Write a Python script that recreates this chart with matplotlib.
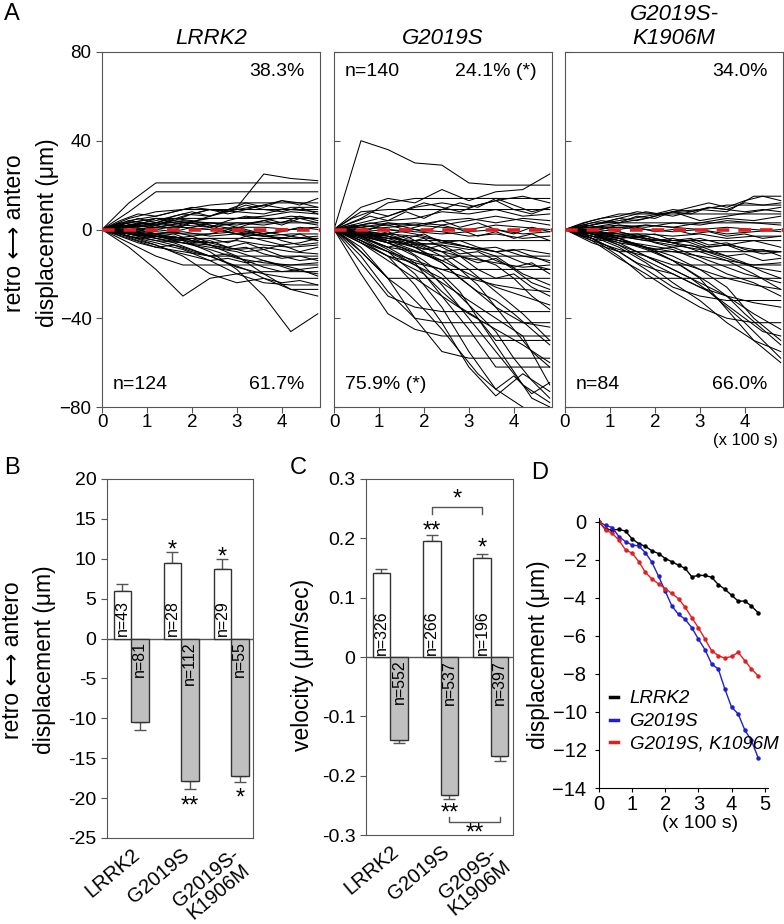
import matplotlib
matplotlib.use("Agg")
import matplotlib.pyplot as plt
from matplotlib.lines import Line2D

plt.rcParams["font.family"] = ["Liberation Sans", "DejaVu Sans"]
plt.rcParams["axes.edgecolor"] = "#555555"
plt.rcParams["xtick.color"] = "#555555"
plt.rcParams["ytick.color"] = "#555555"
plt.rcParams["xtick.labelcolor"] = "black"
plt.rcParams["ytick.labelcolor"] = "black"

# ---------------- panel A: individual tracks (um), time in 100 s
track_time = [0, 0.6, 1.2, 1.8, 2.4, 3.0, 3.6, 4.2, 4.8]
fine_time = [0, 0.4, 0.8, 1.2, 1.6, 2.0, 2.4, 2.8, 3.2, 3.6, 4.0, 4.4, 4.8]

tracks_lrrk2 = [
    [0, 12, 21, 21, 21, 21, 21, 21, 21],
    [0, 8, 17, 17, 17, 17, 17, 17, 17],
    [0, 3, 5, 2, 6, 10, 25, 23, 22],
    [0, 5, 8, 9, 11, 12, 12, 12, 12],
    [0, 4, 2, 6, 9, 8, 7, 10, 10],
    [0, 2, 4, 7, 6, 9, 11, 9, 8],
    [0, 1, 3, 3, 5, 5, 6, 8, 7],
    [0, 3, 5, 5, 5, 5, 5, 5, 5],
    [0, 1, 2, 4, 3, 2, 4, 6, 5],
    [0, 2, 1, 3, 3, 3, 3, 3, 3],
    [0, 1, 0, 2, 1, 3, 2, 4, 2],
    [0, 0, 1, 1, 0, 1, 1, 0, 1],
    [0, -1, -2, -1, -3, -2, -3, -4, -3],
    [0, -2, -3, -4, -4, -4, -4, -4, -4],
    [0, -1, -3, -5, -6, -5, -7, -8, -7],
    [0, -3, -5, -6, -7, -9, -8, -10, -11],
    [0, -4, -8, -10, -12, -12, -12, -12, -12],
    [0, -2, -4, -6, -9, -13, -15, -16, -15],
    [0, -6, -12, -16, -16, -16, -16, -16, -16],
    [0, -8, -18, -30, -22, -20, -19, -19, -19],
    [0, -3, -6, -9, -14, -20, -24, -25, -25],
    [0, -2, -5, -8, -12, -17, -20, -22, -22],
    [0, -1, -3, -6, -8, -10, -14, -18, -20],
    [0, -2, -3, -5, -10, -18, -30, -46, -38],
    [0, -1, -2, -4, -7, -12, -20, -27, -30],
    [0, -3, -7, -12, -20, -24, -22, -27, -27],
    [0, -1, -1, -2, -2, -1, -3, -2, -2],
    [0, 2, 3, 1, 0, -2, -1, -3, -5],
    [0, -1, 1, 3, 2, 0, -2, 0, 1],
    [0, 4, 6, 9, 9, 9, 9, 9, 9],
]
tracks_lrrk2_fine = [
    [0, 2, 5, 3, 6, 8, 6, 9, 12, 10, 13, 11, 14],
    [0, -2, -1, -4, -3, -6, -5, -8, -6, -9, -7, -10, -8],
    [0, 1, -1, 2, 0, 3, 1, -1, 2, 4, 2, 5, 3],
    [0, -1, -3, -2, -5, -4, -7, -9, -8, -11, -13, -12, -14],
    [0, 3, 2, 5, 4, 7, 9, 8, 11, 9, 8, 10, 7],
    [0, -3, -6, -8, -7, -10, -12, -11, -14, -17, -19, -18, -21],
    [0, 1, 3, 2, 4, 3, 1, 4, 6, 5, 3, 6, 4],
    [0, -1, 0, -2, -1, -3, -2, 0, -1, -3, -4, -2, -5],
    [0, 2, 0, -2, -4, -3, -6, -8, -10, -9, -12, -14, -13],
    [0, -2, -4, -3, -2, -5, -4, -6, -3, -5, -7, -6, -4],
    [0, 4, 7, 6, 8, 10, 9, 7, 9, 11, 13, 12, 10],
    [0, -1, -2, -4, -6, -9, -12, -15, -18, -22, -24, -23, -25],
    [0, 2, 1, 3, 5, 4, 2, -1, -3, -2, -5, -7, -6],
    [0, -2, -5, -7, -10, -12, -14, -13, -15, -14, -16, -18, -17],
    [0, 1, 2, 0, -1, 1, 3, 2, 0, -2, -1, 1, 0],
]

tracks_g2019s = [
    [0, 40, 36, 30, 29, 21, 20, 20, 20],
    [0, 10, 14, 12, 18, 13, 17, 18, 25],
    [0, 5, 12, 14, 14, 14, 14, 14, 14],
    [0, 8, 9, 9, 9, 9, 9, 9, 9],
    [0, 3, 6, 10, 12, 10, 13, 15, 12],
    [0, 2, 4, 5, 8, 7, 9, 6, 7],
    [0, 1, 3, 2, 4, 5, 3, 5, 4],
    [0, 0, 1, 2, 1, 0, 2, 1, 0],
    [0, -1, -2, 0, -1, -3, -2, -4, -3],
    [0, -2, -4, -5, -5, -5, -5, -5, -5],
    [0, -3, -5, -7, -6, -8, -10, -9, -11],
    [0, -4, -8, -10, -12, -12, -12, -12, -12],
    [0, -2, -5, -8, -10, -13, -15, -17, -16],
    [0, -6, -12, -15, -18, -18, -18, -18, -18],
    [0, -10, -22, -22, -22, -22, -22, -22, -22],
    [0, -5, -10, -14, -18, -22, -25, -27, -28],
    [0, -15, -30, -35, -37, -37, -37, -37, -37],
    [0, -20, -38, -45, -48, -48, -48, -48, -48],
    [0, -8, -22, -40, -55, -58, -58, -58, -58],
    [0, -3, -8, -15, -30, -45, -62, -62, -62],
    [0, -4, -10, -20, -35, -55, -72, -80, -85],
    [0, -2, -6, -12, -25, -40, -55, -70, -78],
    [0, -5, -12, -25, -42, -62, -75, -65, -73],
    [0, -2, -4, -8, -15, -25, -35, -42, -44],
    [0, -1, -3, -6, -10, -18, -28, -38, -50],
    [0, -3, -6, -10, -14, -20, -26, -30, -34],
    [0, -1, -2, -3, -5, -8, -12, -20, -25],
    [0, 2, 0, -2, -5, -8, -10, -15, -18],
    [0, -2, -3, -6, -7, -9, -8, -12, -14],
    [0, 1, 2, 3, 2, 4, 6, 4, 2],
    [0, -1, 0, -1, -2, -1, 0, -2, -1],
    [0, -6, -14, -22, -30, -38, -45, -52, -60],
    [0, -12, -28, -40, -42, -42, -42, -42, -42],
    [0, -3, -9, -16, -24, -32, -40, -48, -70],
]
tracks_g2019s_fine = [
    [0, -2, -5, -8, -6, -10, -14, -12, -18, -22, -20, -26, -30],
    [0, 3, 6, 4, 8, 5, 9, 12, 10, 14, 11, 8, 10],
    [0, -1, -3, -2, -5, -8, -12, -18, -25, -35, -45, -55, -62],
    [0, -3, -2, -6, -5, -9, -7, -11, -10, -14, -17, -15, -20],
    [0, 2, 0, 3, 1, -1, 2, 0, -3, -1, -4, -2, -5],
    [0, -4, -8, -12, -16, -20, -28, -35, -40, -52, -64, -76, -80],
    [0, 1, -2, -4, -3, -7, -10, -9, -13, -16, -22, -30, -36],
    [0, -2, -1, -3, -6, -4, -8, -12, -15, -13, -18, -24, -27],
    [0, 5, 8, 6, 9, 12, 10, 8, 11, 13, 9, 7, 10],
    [0, -1, -4, -6, -9, -14, -20, -28, -40, -50, -50, -50, -50],
    [0, -2, -3, -1, -4, -2, -6, -5, -8, -10, -9, -12, -15],
    [0, -6, -14, -22, -28, -36, -45, -55, -65, -72, -66, -74, -69],
    [0, 1, 3, 2, 0, 2, 4, 1, 3, 0, -2, 1, -1],
    [0, -3, -7, -10, -14, -18, -22, -30, -38, -46, -58, -68, -76],
    [0, -1, -2, -5, -8, -11, -15, -22, -28, -32, -38, -45, -52],
]

tracks_kd = [
    [0, 4, 7, 7, 7, 7, 7, 7, 7],
    [0, 2, 5, 8, 6, 9, 8, 15, 15],
    [0, 1, 3, 5, 8, 4, 6, 8, 10],
    [0, 3, 3, 3, 3, 3, 3, 3, 3],
    [0, 1, 2, 1, 3, 2, 4, 3, 2],
    [0, 0, 1, 0, -1, 0, 1, 0, -1],
    [0, -1, -2, -2, -3, -2, -4, -3, -3],
    [0, -2, -3, -5, -5, -5, -5, -5, -5],
    [0, -1, -3, -4, -6, -8, -7, -9, -10],
    [0, -3, -6, -8, -10, -12, -14, -16, -15],
    [0, -6, -10, -10, -10, -10, -10, -10, -10],
    [0, -2, -5, -9, -14, -18, -22, -25, -27],
    [0, -4, -10, -18, -26, -30, -32, -32, -32],
    [0, -5, -13, -20, -28, -35, -40, -42, -42],
    [0, -2, -6, -12, -18, -24, -30, -38, -45],
    [0, -3, -8, -15, -24, -32, -42, -50, -55],
    [0, -1, -4, -8, -14, -22, -36, -50, -60],
    [0, -2, -4, -8, -12, -18, -26, -40, -50],
    [0, -1, -2, -4, -6, -10, -14, -20, -27],
    [0, -4, -12, -22, -22, -22, -22, -22, -22],
    [0, 2, 4, 6, 8, 9, 11, 11, 11],
    [0, -1, 0, 2, 1, 3, 5, 4, 6],
    [0, -2, -4, -3, -6, -4, -7, -5, -8],
    [0, -3, -5, -7, -9, -14, -20, -24, -30],
    [0, -2, -7, -14, -20, -26, -30, -33, -35],
    [0, 1, 1, 2, 1, 0, -2, -1, 0],
    [0, -5, -9, -12, -16, -16, -16, -16, -16],
    [0, -1, -3, -5, -7, -9, -13, -17, -19],
]
tracks_kd_fine = [
    [0, 2, 4, 3, 6, 5, 8, 7, 10, 9, 12, 11, 12],
    [0, -2, -1, -4, -3, -6, -8, -7, -10, -12, -11, -14, -13],
    [0, 1, 3, 5, 4, 6, 8, 10, 12, 10, 13, 15, 13],
    [0, -1, -3, -5, -7, -10, -14, -19, -24, -30, -38, -45, -52],
    [0, -3, -5, -4, -7, -9, -8, -11, -14, -17, -20, -22, -24],
    [0, 1, 0, 2, 1, -1, 0, -2, -1, -3, -2, -4, -3],
    [0, -2, -4, -7, -10, -14, -18, -22, -28, -35, -42, -50, -58],
    [0, 2, 1, -1, -3, -2, -5, -4, -7, -6, -9, -11, -10],
    [0, -1, -2, -1, -3, -5, -4, -6, -9, -12, -15, -19, -22],
    [0, 3, 5, 6, 8, 7, 9, 8, 10, 9, 8, 9, 8],
    [0, -2, -6, -10, -15, -18, -20, -24, -28, -34, -40, -46, -48],
    [0, 0, -1, -3, -2, -4, -6, -5, -8, -7, -10, -9, -12],
]

panel_a_titles = ["LRRK2", "G2019S", "G2019S-\nK1906M"]
panel_a_top_left = ["", "n=140", ""]
panel_a_top_right = ["38.3%", "24.1% (*)", "34.0%"]
panel_a_bottom_left = ["n=124", "75.9% (*)", "n=84"]
panel_a_bottom_right = ["61.7%", "", "66.0%"]

# ---------------- panels B, C: mean displacement / velocity
bar_groups = ["LRRK2", "G2019S", "G2019S-\nK1906M"]
bar_groups_c = ["LRRK2", "G2019S", "G209S-\nK1906M"]

antero_disp = [5.9, 9.5, 8.7]
antero_disp_err = [1.0, 1.4, 1.3]
retro_disp = [-10.5, -17.9, -17.2]
retro_disp_err = [0.9, 0.9, 0.8]
antero_disp_n = ["n=43", "n=28", "n=29"]
retro_disp_n = ["n=81", "n=112", "n=55"]

antero_vel = [0.142, 0.196, 0.167]
antero_vel_err = [0.006, 0.010, 0.007]
retro_vel = [-0.140, -0.233, -0.167]
retro_vel_err = [0.005, 0.007, 0.009]
antero_vel_n = ["n=326", "n=266", "n=196"]
retro_vel_n = ["n=552", "n=537", "n=397"]

# ---------------- panel D: mean displacement vs time
d_time = [0, 0.2, 0.4, 0.6, 0.8, 1.0, 1.2, 1.4, 1.6, 1.8, 2.0, 2.2, 2.4,
          2.6, 2.8, 3.0, 3.2, 3.4, 3.6, 3.8, 4.0, 4.2, 4.4, 4.6, 4.8]
d_lrrk2 = [0, -0.4, -0.43, -0.4, -0.49, -0.9, -1.15, -1.29, -1.53, -1.67,
           -1.93, -2.1, -2.28, -2.45, -2.89, -2.82, -2.82, -2.92, -3.3,
           -3.55, -3.86, -4.17, -4.17, -4.43, -4.78]
d_g2019s = [0, -0.19, -0.3, -0.78, -1.04, -1.22, -1.27, -1.62, -2.14, -2.87,
            -3.65, -4.43, -4.87, -5.13, -5.57, -6.17, -6.73, -7.48, -7.74,
            -8.8, -9.75, -10.1, -10.95, -11.5, -12.4]
d_kd = [0, -0.43, -0.61, -0.96, -1.48, -1.65, -2.09, -2.66, -3.01, -3.27,
        -3.51, -3.77, -4.05, -4.49, -5.04, -5.57, -6.17, -6.78, -7.04, -7.17,
        -7.08, -6.87, -7.3, -7.74, -8.1]
d_labels = ["LRRK2", "G2019S", "G2019S, K1096M"]
d_colors = ["black", "#1f1fd0", "#e02020"]

W, H = 784, 924
fig = plt.figure(figsize=(W / 100, H / 100), dpi=100)


def px_axes(left, top, right, bottom):
    return fig.add_axes([left / W, 1 - bottom / H, (right - left) / W, (bottom - top) / H])


# ---- A
a_lefts = [102, 334, 565]
all_tracks = [(tracks_lrrk2, tracks_lrrk2_fine), (tracks_g2019s, tracks_g2019s_fine),
              (tracks_kd, tracks_kd_fine)]
for i, (coarse, fine) in enumerate(all_tracks):
    ax = px_axes(a_lefts[i], 52, a_lefts[i] + 218, 407)
    for tr in coarse:
        ax.plot(track_time, tr, color="black", lw=0.75)
    for tr in fine:
        ax.plot(fine_time, tr, color="black", lw=0.75)
    ax.axhline(0, color="#e02020", lw=2.6, dashes=(3.5, 2.5), zorder=5)
    ax.set_xlim(0, 4.85)
    ax.set_ylim(-80, 80)
    ax.set_xticks([0, 1, 2, 3, 4])
    ax.set_yticks([-80, -40, 0, 40, 80])
    ax.tick_params(labelsize=13.5, length=4)
    ax.tick_params(axis="x", pad=1)
    if i == 0:
        ax.tick_params(axis="y", direction="out")
    else:
        ax.tick_params(axis="y", direction="in", labelleft=False)
    ax.set_title(panel_a_titles[i], fontsize=16, style="italic", pad=6, linespacing=1.15)
    ax.text(0.05, 0.945, panel_a_top_left[i], transform=ax.transAxes, fontsize=14, va="center")
    ax.text(0.93, 0.945, panel_a_top_right[i], transform=ax.transAxes, fontsize=14,
            va="center", ha="right")
    ax.text(0.05, 0.062, panel_a_bottom_left[i], transform=ax.transAxes, fontsize=14, va="center")
    ax.text(0.93, 0.062, panel_a_bottom_right[i], transform=ax.transAxes, fontsize=14,
            va="center", ha="right")

fig.text(745 / W, 1 - 441 / H, "(x 100 s)", fontsize=12, ha="center", va="center")
fig.text(15 / W, 1 - 233 / H, "retro \u27f7 antero", fontsize=16.5, rotation=90,
         ha="center", va="center")
fig.text(48 / W, 1 - 233 / H, "displacement (\u03bcm)", fontsize=16.5, rotation=90,
         ha="center", va="center")


# ---- B and C
def bar_panel(ax, antero, antero_err, retro, retro_err, n_up, n_down, labels, ylim, yticks, fmt):
    xs = range(len(antero))
    w = 0.35
    xa = [x - w / 2 for x in xs]
    xr = [x + w / 2 for x in xs]
    ax.bar(xa, antero, width=w, color="white", edgecolor="#333333", lw=1, zorder=2)
    ax.bar(xr, retro, width=w, color="#c0c0c0", edgecolor="#333333", lw=1, zorder=2)
    ax.errorbar(xa, antero, yerr=[[0] * len(antero), antero_err], fmt="none",
                ecolor="#555555", elinewidth=1, capsize=4, zorder=1)
    ax.errorbar(xr, retro, yerr=[retro_err, [0] * len(retro)], fmt="none",
                ecolor="#555555", elinewidth=1, capsize=4, zorder=1)
    span = ylim[1] - ylim[0]
    for x, s in zip(xa, n_up):
        ax.text(x, 0.006 * span, s, rotation=90, ha="center", va="bottom", fontsize=11.5, zorder=3)
    for x, s in zip(xr, n_down):
        ax.text(x, -0.008 * span, s, rotation=90, ha="center", va="top", fontsize=11.5, zorder=3)
    ax.axhline(0, color="#555555", lw=1, zorder=1)
    ax.set_xlim(-0.48, 2.44)
    ax.set_ylim(*ylim)
    ax.set_yticks(yticks)
    ax.set_yticklabels([fmt(v) for v in yticks])
    ax.set_xticks(list(xs))
    ax.set_xticklabels(labels, rotation=40, ha="right", va="top", rotation_mode="anchor",
                       multialignment="center", fontsize=14.5, linespacing=0.95)
    ax.tick_params(axis="x", length=0, pad=5)
    ax.tick_params(axis="y", labelsize=14, length=4)
    return xa, xr


axb = px_axes(107, 479, 253, 838)
xa, xr = bar_panel(axb, antero_disp, antero_disp_err, retro_disp, retro_disp_err,
                   antero_disp_n, retro_disp_n, bar_groups, (-25, 20),
                   list(range(-25, 21, 5)), lambda v: f"{v:d}")
axb.text(xa[1], 11.0, "*", ha="center", va="center", fontsize=17)
axb.text(xa[2], 10.2, "*", ha="center", va="center", fontsize=17)
axb.text(xr[1], -21.0, "**", ha="center", va="center", fontsize=17)
axb.text(xr[2], -20.0, "*", ha="center", va="center", fontsize=17)
fig.text(13 / W, 1 - 660 / H, "retro \u27f7 antero", fontsize=16.5, rotation=90,
         ha="center", va="center")
fig.text(45 / W, 1 - 660 / H, "displacement (\u03bcm)", fontsize=16.5, rotation=90,
         ha="center", va="center")

axc = px_axes(366, 479, 513, 835)
vt = [-0.3, -0.2, -0.1, 0, 0.1, 0.2, 0.3]
xa, xr = bar_panel(axc, antero_vel, antero_vel_err, retro_vel, retro_vel_err,
                   antero_vel_n, retro_vel_n, bar_groups_c, (-0.3, 0.3), vt,
                   lambda v: "0" if v == 0 else f"{v:.1f}")
axc.text(xa[1], 0.212, "**", ha="center", va="center", fontsize=17)
axc.text(xa[2], 0.183, "*", ha="center", va="center", fontsize=17)
axc.plot([xa[1], xa[1], xa[2], xa[2]], [0.241, 0.252, 0.252, 0.241], color="#555555", lw=1)
axc.text((xa[1] + xa[2]) / 2, 0.265, "*", ha="center", va="center", fontsize=17)
axc.text(xr[1], -0.263, "**", ha="center", va="center", fontsize=17)
axc.plot([xr[1], xr[1], xr[2], xr[2]], [-0.270, -0.278, -0.278, -0.270], color="#555555", lw=1)
axc.text((xr[1] + xr[2]) / 2, -0.298, "**", ha="center", va="center", fontsize=17)
fig.text(303 / W, 1 - 665 / H, "velocity (\u03bcm/sec)", fontsize=16.5, rotation=90,
         ha="center", va="center")

# ---- D
axd = px_axes(599, 518, 768, 788)
for y, c in zip([d_lrrk2, d_g2019s, d_kd], d_colors):
    axd.plot(d_time, y, color=c, lw=1, marker="o", ms=2.2)
axd.set_xlim(0, 5.1)
axd.set_ylim(-14, 0.2)
axd.set_xticks([0, 1, 2, 3, 4, 5])
axd.set_yticks(list(range(-14, 1, 2)))
axd.spines["top"].set_visible(False)
axd.spines["right"].set_visible(False)
axd.spines["left"].set_color("black")
axd.spines["bottom"].set_color("black")
axd.tick_params(labelsize=14.5, length=3, color="black")
axd.tick_params(axis="y", pad=6)
axd.tick_params(axis="x", pad=2)
handles = [Line2D([], [], color=c, lw=2.5) for c in d_colors]
leg = axd.legend(handles, d_labels, loc="upper left", bbox_to_anchor=(0.02, 0.39),
                 frameon=False, handlelength=0.45, handletextpad=0.6, fontsize=13.5,
                 labelspacing=0.3, borderaxespad=0)
for t in leg.get_texts():
    t.set_style("italic")
fig.text(700 / W, 1 - 823 / H, "(x 100 s)", fontsize=14, ha="center", va="center")
fig.text(538 / W, 1 - 655 / H, "displacement (\u03bcm)", fontsize=16.5, rotation=90,
         ha="center", va="center")

# panel letters
for s, x, y in [("A", 12, 14), ("B", 12, 468), ("C", 298, 468), ("D", 540, 473)]:
    fig.text(x / W, 1 - y / H, s, fontsize=17, ha="center", va="center")

fig.savefig("out.png", dpi=100)
